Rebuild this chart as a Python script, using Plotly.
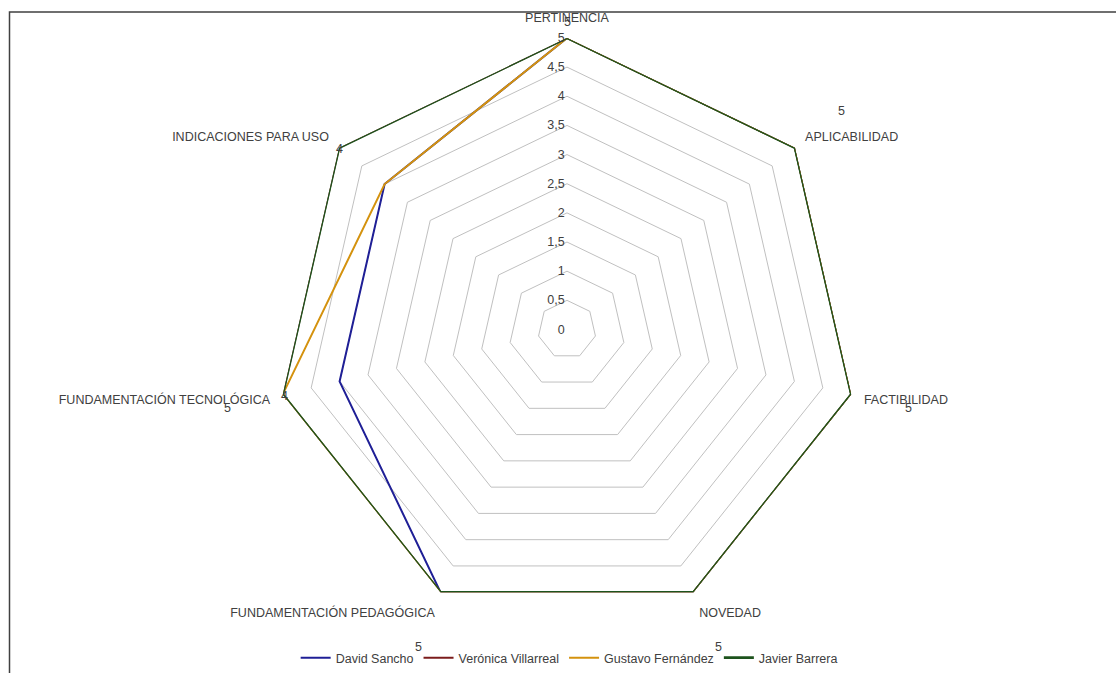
import plotly.graph_objects as go

categories = ["PERTINENCIA", "APLICABILIDAD", "FACTIBILIDAD", "NOVEDAD",
              "FUNDAMENTACIÓN PEDAGÓGICA", "FUNDAMENTACIÓN TECNOLÓGICA",
              "INDICACIONES PARA USO"]
series_names = ["David Sancho", "Verónica Villarreal", "Gustavo Fernández", "Javier Barrera"]
david = [5, 5, 5, 5, 5, 4, 4]
veronica = [5, 5, 5, 5, 5, 5, 5]
gustavo = [5, 5, 5, 5, 5, 5, 4]
javier = [5, 5, 5, 5, 5, 5, 5]
tick_vals = [0, 0.5, 1, 1.5, 2, 2.5, 3, 3.5, 4, 4.5, 5]
tick_text = ["0", "0,5", "1", "1,5", "2", "2,5", "3", "3,5", "4", "4,5", "5"]

colors = ["#1f1f96", "#7b1c1c", "#d4920e", "#1d531d"]
widths = [2, 2, 2, 2.6]
all_series = [david, veronica, gustavo, javier]

W, H = 1116, 673
cx, cy, R = 567, 330, 292
FONT = "Liberation Sans, Arial, sans-serif"
FS = 12.5

fig = go.Figure()
for name, vals, col, w in zip(series_names, all_series, colors, widths):
    fig.add_trace(go.Scatterpolar(
        r=vals + vals[:1], theta=categories + categories[:1],
        mode="lines", name=name, line=dict(color=col, width=w),
        hoverinfo="skip"))

# stray data labels as in the original chart (value, pixel x, pixel y)
labels = [
    (gustavo[0], 567, 22), (javier[1], 841, 111), (david[6], 339, 149),
    (david[5], 284, 397), (javier[5], 227, 409), (javier[2], 908, 409),
    (veronica[4], 418, 648), (javier[3], 718, 648),
]
annotations = []
for v, px, py in labels:
    annotations.append(dict(x=px / W, y=1 - py / H, xref="paper", yref="paper",
                            text=str(v), showarrow=False,
                            font=dict(size=FS, color="#404040", family=FONT),
                            xanchor="center", yanchor="middle"))

fig.update_layout(
    width=W, height=H,
    margin=dict(l=0, r=0, t=0, b=0),
    paper_bgcolor="white", plot_bgcolor="white",
    font=dict(family=FONT, size=FS, color="#404040"),
    polar=dict(
        domain=dict(x=[(cx - R) / W, (cx + R) / W],
                    y=[(H - cy - R) / H, (H - cy + R) / H]),
        bgcolor="white",
        gridshape="linear",
        radialaxis=dict(range=[0, 5], tickvals=tick_vals, ticktext=tick_text,
                        showline=False, ticks="", angle=90, tickangle=90,
                        side="counterclockwise",
                        gridcolor="#c0c0c0", gridwidth=1,
                        tickfont=dict(size=FS, color="#404040")),
        angularaxis=dict(rotation=90, direction="clockwise", showgrid=False,
                         showline=False, ticks="outside", ticklen=10,
                         tickcolor="rgba(0,0,0,0)",
                         tickfont=dict(size=FS, color="#404040")),
    ),
    legend=dict(orientation="h", x=0.51, xanchor="center", y=1 - 659 / H,
                yanchor="middle", font=dict(size=FS, color="#404040"),
                itemwidth=30, tracegroupgap=0),
    annotations=annotations,
    shapes=[dict(type="rect", xref="paper", yref="paper",
                 x0=9.5 / W, x1=1.02, y0=-0.02, y1=1 - 12 / H,
                 line=dict(color="#404040", width=1.5), fillcolor="rgba(0,0,0,0)")],
)

fig.write_html("out.html")
